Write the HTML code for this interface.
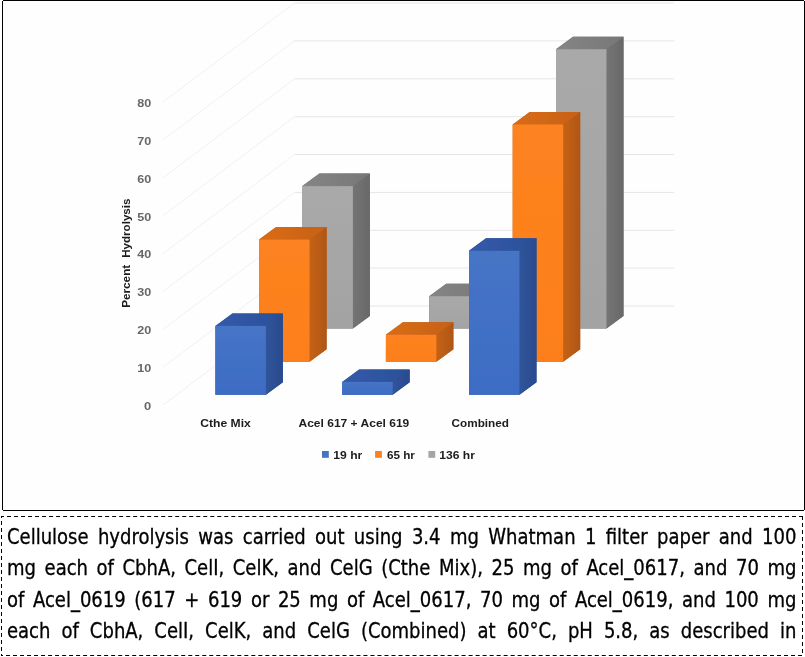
<!DOCTYPE html>
<html><head><meta charset="utf-8"><title>Figure</title>
<style>
html,body{margin:0;padding:0;background:#fff;}
body{width:805px;height:657px;position:relative;overflow:hidden;font-family:"DejaVu Sans Condensed","Liberation Sans",sans-serif;}
#fig{position:absolute;left:3px;top:1px;width:801px;height:509px;background:#fefefe}
.ln{position:absolute;left:6.6px;width:839.79px;height:30px;line-height:30px;font-size:21.3px;color:#000;white-space:nowrap;text-align:justify;text-align-last:justify;transform:scaleX(0.94);transform-origin:0 0;-webkit-text-stroke:0.3px #000;}
</style></head><body>
<div id="fig"></div>
<svg width="801" height="509" viewBox="3 1 801 509" style="position:absolute;left:3px;top:1px">
<defs>
<linearGradient id="gb" x1="0" y1="0" x2="0" y2="1"><stop offset="0" stop-color="#4674c6"/><stop offset="1" stop-color="#3d6cc4"/></linearGradient>
<linearGradient id="go" x1="0" y1="0" x2="0" y2="1"><stop offset="0" stop-color="#fd8320"/><stop offset="1" stop-color="#fc7f1c"/></linearGradient>
<linearGradient id="gg" x1="0" y1="0" x2="0" y2="1"><stop offset="0" stop-color="#a9a9a9"/><stop offset="1" stop-color="#a3a3a3"/></linearGradient>
<linearGradient id="sb" x1="0" y1="0" x2="1" y2="0"><stop offset="0" stop-color="#305499"/><stop offset="1" stop-color="#2a4b8f"/></linearGradient>
<linearGradient id="tb" x1="0" y1="0" x2="1" y2="0"><stop offset="0" stop-color="#335baa"/><stop offset="1" stop-color="#2b4f98"/></linearGradient>
<linearGradient id="so" x1="0" y1="0" x2="1" y2="0"><stop offset="0" stop-color="#c56217"/><stop offset="1" stop-color="#b05614"/></linearGradient>
<linearGradient id="to" x1="0" y1="0" x2="1" y2="0"><stop offset="0" stop-color="#da6c18"/><stop offset="1" stop-color="#c66117"/></linearGradient>
<linearGradient id="sg" x1="0" y1="0" x2="1" y2="0"><stop offset="0" stop-color="#747474"/><stop offset="1" stop-color="#696969"/></linearGradient>
<linearGradient id="tg" x1="0" y1="0" x2="1" y2="0"><stop offset="0" stop-color="#858585"/><stop offset="1" stop-color="#777777"/></linearGradient>
<filter id="bl" x="-2%" y="-2%" width="104%" height="104%"><feGaussianBlur stdDeviation="0.6"/></filter>
</defs>
<g filter="url(#bl)">
<g stroke-width="1" fill="none">
<line x1="163" y1="405.0" x2="294.5" y2="306.0" stroke="#f0f0f0"/><line x1="294.5" y1="306.0" x2="674" y2="306.0" stroke="#e6e6e6"/>
<line x1="163" y1="367.1" x2="294.5" y2="268.1" stroke="#f0f0f0"/><line x1="294.5" y1="268.1" x2="674" y2="268.1" stroke="#e6e6e6"/>
<line x1="163" y1="329.3" x2="294.5" y2="230.3" stroke="#f0f0f0"/><line x1="294.5" y1="230.3" x2="674" y2="230.3" stroke="#e6e6e6"/>
<line x1="163" y1="291.4" x2="294.5" y2="192.4" stroke="#f0f0f0"/><line x1="294.5" y1="192.4" x2="674" y2="192.4" stroke="#e6e6e6"/>
<line x1="163" y1="253.5" x2="294.5" y2="154.5" stroke="#f0f0f0"/><line x1="294.5" y1="154.5" x2="674" y2="154.5" stroke="#e6e6e6"/>
<line x1="163" y1="215.7" x2="294.5" y2="116.7" stroke="#f0f0f0"/><line x1="294.5" y1="116.7" x2="674" y2="116.7" stroke="#e6e6e6"/>
<line x1="163" y1="177.8" x2="294.5" y2="78.8" stroke="#f0f0f0"/><line x1="294.5" y1="78.8" x2="674" y2="78.8" stroke="#e6e6e6"/>
<line x1="163" y1="139.9" x2="294.5" y2="40.9" stroke="#f0f0f0"/><line x1="294.5" y1="40.9" x2="674" y2="40.9" stroke="#e6e6e6"/>
<line x1="163" y1="102.0" x2="294.5" y2="3.0" stroke="#f0f0f0"/><line x1="294.5" y1="3.0" x2="674" y2="3.0" stroke="#e6e6e6"/>
</g>
<polygon points="302.4,186.1 319.4,173.6 369.9,173.6 369.9,316.0 352.9,328.5 302.4,328.5" fill="#6d6d6d"/>
<polygon points="352.9,186.1 369.9,173.6 369.9,316.0 352.9,328.5" fill="url(#sg)"/>
<polygon points="302.4,186.1 319.4,173.6 369.9,173.6 352.9,186.1" fill="url(#tg)"/>
<rect x="302.4" y="186.1" width="50.5" height="142.4" fill="url(#gg)"/>
<polygon points="429.2,296.2 446.2,283.7 496.7,283.7 496.7,316.0 479.7,328.5 429.2,328.5" fill="#6d6d6d"/>
<polygon points="479.7,296.2 496.7,283.7 496.7,316.0 479.7,328.5" fill="url(#sg)"/>
<polygon points="429.2,296.2 446.2,283.7 496.7,283.7 479.7,296.2" fill="url(#tg)"/>
<rect x="429.2" y="296.2" width="50.5" height="32.3" fill="url(#gg)"/>
<polygon points="556.0,49.2 573.0,36.7 623.5,36.7 623.5,316.0 606.5,328.5 556.0,328.5" fill="#6d6d6d"/>
<polygon points="606.5,49.2 623.5,36.7 623.5,316.0 606.5,328.5" fill="url(#sg)"/>
<polygon points="556.0,49.2 573.0,36.7 623.5,36.7 606.5,49.2" fill="url(#tg)"/>
<rect x="556.0" y="49.2" width="50.5" height="279.3" fill="url(#gg)"/>
<polygon points="259.1,239.5 276.1,227.0 326.6,227.0 326.6,349.2 309.6,361.7 259.1,361.7" fill="#b85a14"/>
<polygon points="309.6,239.5 326.6,227.0 326.6,349.2 309.6,361.7" fill="url(#so)"/>
<polygon points="259.1,239.5 276.1,227.0 326.6,227.0 309.6,239.5" fill="url(#to)"/>
<rect x="259.1" y="239.5" width="50.5" height="122.2" fill="url(#go)"/>
<polygon points="385.9,334.7 402.9,322.2 453.4,322.2 453.4,349.2 436.4,361.7 385.9,361.7" fill="#b85a14"/>
<polygon points="436.4,334.7 453.4,322.2 453.4,349.2 436.4,361.7" fill="url(#so)"/>
<polygon points="385.9,334.7 402.9,322.2 453.4,322.2 436.4,334.7" fill="url(#to)"/>
<rect x="385.9" y="334.7" width="50.5" height="27.0" fill="url(#go)"/>
<polygon points="512.7,124.4 529.7,111.9 580.2,111.9 580.2,349.2 563.2,361.7 512.7,361.7" fill="#b85a14"/>
<polygon points="563.2,124.4 580.2,111.9 580.2,349.2 563.2,361.7" fill="url(#so)"/>
<polygon points="512.7,124.4 529.7,111.9 580.2,111.9 563.2,124.4" fill="url(#to)"/>
<rect x="512.7" y="124.4" width="50.5" height="237.3" fill="url(#go)"/>
<polygon points="215.4,325.9 232.4,313.4 282.9,313.4 282.9,382.3 265.9,394.8 215.4,394.8" fill="#2c4f96"/>
<polygon points="265.9,325.9 282.9,313.4 282.9,382.3 265.9,394.8" fill="url(#sb)"/>
<polygon points="215.4,325.9 232.4,313.4 282.9,313.4 265.9,325.9" fill="url(#tb)"/>
<rect x="215.4" y="325.9" width="50.5" height="68.9" fill="url(#gb)"/>
<polygon points="342.2,381.9 359.2,369.4 409.7,369.4 409.7,382.3 392.7,394.8 342.2,394.8" fill="#2c4f96"/>
<polygon points="392.7,381.9 409.7,369.4 409.7,382.3 392.7,394.8" fill="url(#sb)"/>
<polygon points="342.2,381.9 359.2,369.4 409.7,369.4 392.7,381.9" fill="url(#tb)"/>
<rect x="342.2" y="381.9" width="50.5" height="12.9" fill="url(#gb)"/>
<polygon points="469.0,250.8 486.0,238.3 536.5,238.3 536.5,382.3 519.5,394.8 469.0,394.8" fill="#2c4f96"/>
<polygon points="519.5,250.8 536.5,238.3 536.5,382.3 519.5,394.8" fill="url(#sb)"/>
<polygon points="469.0,250.8 486.0,238.3 536.5,238.3 519.5,250.8" fill="url(#tb)"/>
<rect x="469.0" y="250.8" width="50.5" height="144.0" fill="url(#gb)"/>
<g font-family="'Liberation Sans', sans-serif" font-weight="bold" font-size="11.6" lengthAdjust="spacingAndGlyphs">
<g fill="#686868">
<text x="144" y="409.6" textLength="7.2" lengthAdjust="spacingAndGlyphs">0</text>
<text x="137.2" y="371.8" textLength="14" lengthAdjust="spacingAndGlyphs">10</text>
<text x="137.2" y="334.0" textLength="14" lengthAdjust="spacingAndGlyphs">20</text>
<text x="137.2" y="296.2" textLength="14" lengthAdjust="spacingAndGlyphs">30</text>
<text x="137.2" y="258.4" textLength="14" lengthAdjust="spacingAndGlyphs">40</text>
<text x="137.2" y="220.6" textLength="14" lengthAdjust="spacingAndGlyphs">50</text>
<text x="137.2" y="182.8" textLength="14" lengthAdjust="spacingAndGlyphs">60</text>
<text x="137.2" y="145.0" textLength="14" lengthAdjust="spacingAndGlyphs">70</text>
<text x="137.2" y="107.2" textLength="14" lengthAdjust="spacingAndGlyphs">80</text>
</g><g fill="#1c1c1c">
<text x="200.3" y="427" textLength="50.5" lengthAdjust="spacingAndGlyphs">Cthe Mix</text>
<text x="298.5" y="427" textLength="110.8" lengthAdjust="spacingAndGlyphs">Acel 617 + Acel 619</text>
<text x="451.6" y="427" textLength="57.4" lengthAdjust="spacingAndGlyphs">Combined</text>
<text transform="translate(130,307.8) rotate(-90)" textLength="43" lengthAdjust="spacingAndGlyphs">Percent</text>
<text transform="translate(130,257.8) rotate(-90)" textLength="59.3" lengthAdjust="spacingAndGlyphs">Hydrolysis</text>
<rect x="322" y="451" width="6.8" height="6.8" fill="#4472c4"/><text x="333.3" y="458.6" textLength="29" lengthAdjust="spacingAndGlyphs">19 hr</text>
<rect x="375.1" y="451" width="6.8" height="6.8" fill="#f98125"/><text x="386.9" y="458.6" textLength="28" lengthAdjust="spacingAndGlyphs">65 hr</text>
<rect x="428.4" y="451" width="6.8" height="6.8" fill="#a5a5a5"/><text x="439.3" y="458.6" textLength="35.6" lengthAdjust="spacingAndGlyphs">136 hr</text>
</g></g>
</g>
</svg>
<svg width="805" height="657" style="position:absolute;left:0;top:0">
<g fill="#000" shape-rendering="crispEdges"><rect x="3" y="0" width="801" height="1"/><rect x="3" y="510" width="801" height="1"/><rect x="2" y="1" width="1" height="509"/><rect x="804" y="1" width="1" height="509"/></g>
<g stroke="#000" stroke-width="1" fill="none" stroke-dasharray="4 3.009">
<line x1="1" y1="516.5" x2="803" y2="516.5" stroke-dashoffset="1"/>
<line x1="1" y1="655.5" x2="802" y2="655.5" stroke-dashoffset="2"/>
<line x1="1.5" y1="516" x2="1.5" y2="656" stroke-dashoffset="2" stroke-dasharray="4 3"/>
<line x1="802.5" y1="516" x2="802.5" y2="655" stroke-dasharray="4 3"/>
</g></svg>
<div class="ln" style="top:522.03px">Cellulose hydrolysis was carried out using 3.4 mg Whatman 1 filter paper and 100</div>
<div class="ln" style="top:553.13px">mg each of CbhA, CelI, CelK, and CelG (Cthe Mix), 25 mg of Acel_0617, and 70 mg</div>
<div class="ln" style="top:584.53px">of Acel_0619 (617 + 619 or 25 mg of Acel_0617, 70 mg of Acel_0619, and 100 mg</div>
<div class="ln" style="top:615.93px">each of CbhA, CelI, CelK, and CelG (Combined) at 60°C, pH 5.8, as described in</div>

</body></html>
